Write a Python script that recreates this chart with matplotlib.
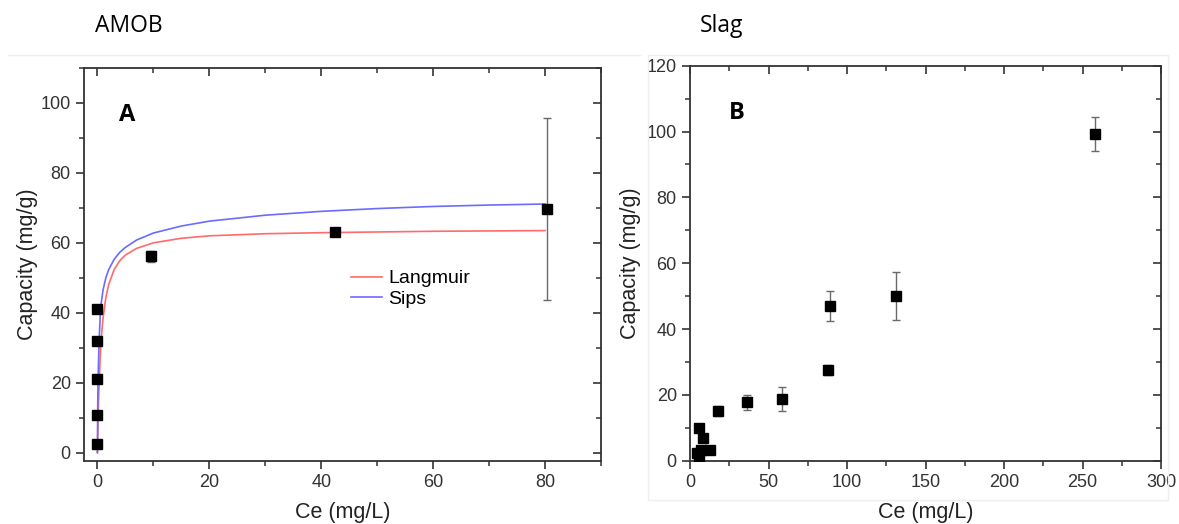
import numpy as np
import matplotlib
matplotlib.use("Agg")
import matplotlib.pyplot as plt
from matplotlib.ticker import MultipleLocator
from matplotlib.lines import Line2D
from matplotlib.patches import Rectangle

# AMOB (panel A) measured points
amob_ce = [0, 0, 0, 0, 0, 9.6, 42.5, 80.3]
amob_q = [2.5, 10.8, 21.0, 31.8, 41.2, 56.1, 63.0, 69.7]
amob_err = [0.3, 0.3, 0.3, 0.3, 0.3, 1.6, 0.6, 26.0]

# fitted curves
fit_ce = [0, 0.05, 0.1, 0.15, 0.25, 0.35, 0.5, 0.7, 1, 1.5, 2, 3, 4, 5, 7, 10,
          15, 20, 30, 40, 50, 60, 70, 80]
langmuir_q = [0, 4.5, 8.3, 11.5, 17.1, 21.4, 27.4, 33.0, 38.4, 44.3, 48.0, 52.4,
              54.9, 56.5, 58.4, 60.0, 61.3, 62.0, 62.6, 62.9, 63.1, 63.3, 63.4, 63.5]
sips_q = [0, 13.0, 19.0, 23.0, 29.0, 34.0, 39.0, 43.0, 46.5, 50.0, 52.3, 55.3,
          57.3, 58.7, 60.8, 62.8, 64.8, 66.2, 67.9, 69.0, 69.8, 70.4, 70.8, 71.1]

# Slag (panel B) measured points
slag_ce = [4.5, 6, 6, 7, 8, 12.8, 18, 36.6, 58.7, 88, 89, 131, 258]
slag_q = [2.3, 0.8, 9.9, 3.3, 7.0, 3.1, 15.0, 17.7, 18.8, 27.5, 47.0, 50.0, 99.3]
slag_err = [0.3, 0.3, 0.5, 0.3, 0.3, 0.3, 1.5, 2.4, 3.7, 1.5, 4.5, 7.3, 5.1]

plt.rcParams['font.family'] = ['Liberation Sans', 'DejaVu Sans']
spine_col = '#333333'

fig = plt.figure(figsize=(11.79, 5.24), dpi=100)

# faint page frame lines from the original figure
fig.add_artist(Line2D([8 / 1179, 640 / 1179], [1 - 55 / 524, 1 - 55 / 524],
                      transform=fig.transFigure, color='#eeeeee', lw=1))
fig.add_artist(Rectangle((648 / 1179, 1 - 500 / 524), 520 / 1179, 445 / 524,
                         transform=fig.transFigure, fill=False,
                         edgecolor='#eeeeee', lw=1))

axA = fig.add_axes([84 / 1179, 1 - 461 / 524, 517 / 1179, 393 / 524])
axB = fig.add_axes([690 / 1179, 1 - 460.7 / 524, 471 / 1179, 395 / 524])


def style(ax, xmaj, xmin, ymaj, ymin, ypad):
    for s in ax.spines.values():
        s.set_color(spine_col)
        s.set_linewidth(1.3)
    ax.xaxis.set_major_locator(MultipleLocator(xmaj))
    ax.xaxis.set_minor_locator(MultipleLocator(xmin))
    ax.yaxis.set_major_locator(MultipleLocator(ymaj))
    ax.yaxis.set_minor_locator(MultipleLocator(ymin))
    ax.tick_params(which='major', direction='out', length=6, width=1.2,
                   color=spine_col, labelsize=13, labelcolor='#333333')
    ax.tick_params(which='minor', direction='out', length=3.5, width=1.1,
                   color=spine_col)
    top = ax.secondary_xaxis('top')
    top.xaxis.set_major_locator(MultipleLocator(xmaj))
    top.xaxis.set_minor_locator(MultipleLocator(xmin))
    top.tick_params(which='major', direction='in', length=6, width=1.2,
                    color=spine_col, labeltop=False)
    top.tick_params(which='minor', direction='in', length=3.5, width=1.1,
                    color=spine_col)
    right = ax.secondary_yaxis('right')
    right.yaxis.set_major_locator(MultipleLocator(ymaj))
    right.yaxis.set_minor_locator(MultipleLocator(ymin))
    right.tick_params(which='major', direction='in', length=6, width=1.2,
                      color=spine_col, labelright=False)
    right.tick_params(which='minor', direction='in', length=3.5, width=1.1,
                      color=spine_col)
    for s in list(top.spines.values()) + list(right.spines.values()):
        s.set_visible(False)
    ax.set_xlabel('Ce (mg/L)', fontsize=15.5, color='#222222', labelpad=8)
    ax.set_ylabel('Capacity (mg/g)', fontsize=15.5, color='#222222', labelpad=ypad)


# panel A
axA.plot(fit_ce, langmuir_q, color='#ff6b6b', lw=1.2, label='Langmuir')
axA.plot(fit_ce, sips_q, color='#6b6bff', lw=1.2, label='Sips')
axA.errorbar(amob_ce, amob_q, yerr=amob_err, fmt='s', color='black', ms=7,
             ecolor='#6a6a6a', elinewidth=1, capsize=3, capthick=1, zorder=5)
axA.set_xlim(-2.4, 90)
axA.set_ylim(-2.4, 110)
style(axA, 20, 10, 20, 10, 2)
axA.text(5.3, 96.7, 'A', fontsize=17, fontweight='bold', family=['Open Sans', 'DejaVu Sans'],
         ha='center', va='center')
axA.legend(frameon=False, loc='center left', bbox_to_anchor=(0.482, 0.438),
           fontsize=14, handlelength=1.6, handletextpad=0.35,
           labelspacing=0.15)

# panel B
axB.errorbar(slag_ce, slag_q, yerr=slag_err, fmt='s', color='black', ms=7,
             ecolor='#6a6a6a', elinewidth=1, capsize=3, capthick=1, zorder=5)
axB.set_xlim(0, 300)
axB.set_ylim(0, 120)
style(axB, 50, 25, 20, 10, 4)
axB.text(30, 105.7, 'B', fontsize=17, fontweight='bold', family=['Open Sans', 'DejaVu Sans'],
         ha='center', va='center')

fig.text(95 / 1179, 1 - 26 / 524, 'AMOB', fontsize=16.5, family=['Open Sans', 'DejaVu Sans'],
         ha='left', va='center')
fig.text(700 / 1179, 1 - 26 / 524, 'Slag', fontsize=16.5, family=['Open Sans', 'DejaVu Sans'],
         ha='left', va='center')

fig.savefig('out.png', dpi=100)
